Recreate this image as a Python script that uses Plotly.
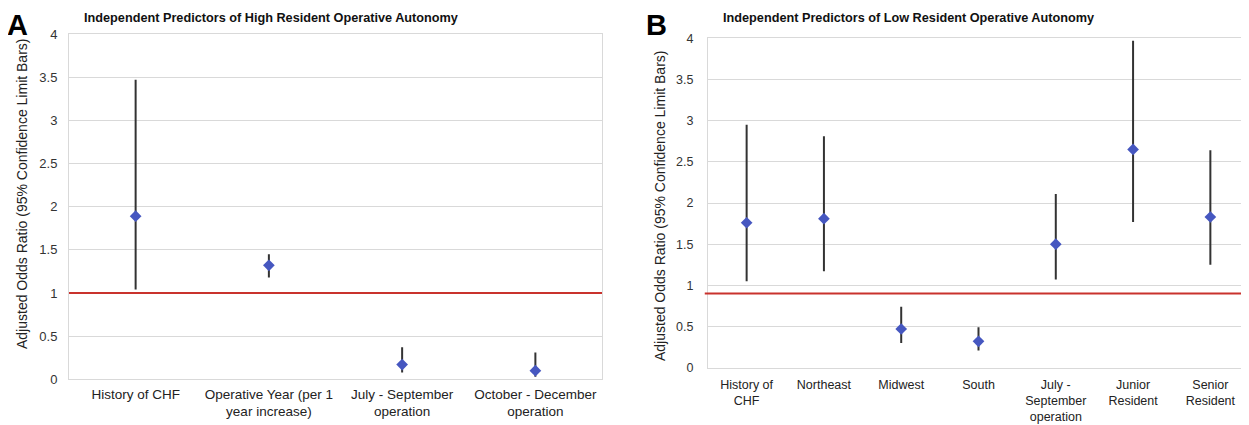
import plotly.graph_objects as go

# The page body has an 8px default margin; the figure is sized so that it
# fills the 1249x425 window exactly after that offset.
OFF = 8
W, H = 1249 - OFF, 425 - OFF

# ---- Panel A data ----
cats_a = ["History of CHF", "Operative Year (per 1<br>year increase)",
          "July - September<br>operation", "October - December<br>operation"]
or_a = [1.89, 1.32, 0.17, 0.10]
lo_a = [1.04, 1.18, 0.08, 0.03]
hi_a = [3.47, 1.45, 0.37, 0.31]
ref_a = 1.0

# ---- Panel B data ----
cats_b = ["History of<br>CHF", "Northeast", "Midwest", "South",
          "July -<br>September<br>operation", "Junior<br>Resident", "Senior<br>Resident"]
or_b = [1.76, 1.81, 0.47, 0.32, 1.50, 2.65, 1.83]
lo_b = [1.05, 1.17, 0.30, 0.21, 1.07, 1.77, 1.25]
hi_b = [2.95, 2.81, 0.74, 0.49, 2.11, 3.97, 2.64]
ref_b = 0.9

y_ticks = [0, 0.5, 1, 1.5, 2, 2.5, 3, 3.5, 4]
y_ticktext = ["0", "0.5", "1", "1.5", "2", "2.5", "3", "3.5", "4"]

FONT = "Liberation Sans, Arial, Helvetica, sans-serif"
MARKER = "#4657c0"
BAR = "#333333"
RED = "#c9322d"
GRID = "#d9d9d9"


def px_x(px):
    return (px - OFF) / W


def px_y(py):
    return 1 - (py - OFF) / H


fig = go.Figure()

fig.add_trace(go.Scatter(
    x=cats_a, y=or_a, mode="markers", xaxis="x", yaxis="y",
    marker=dict(symbol="diamond", size=9, color=MARKER),
    error_y=dict(type="data", symmetric=False,
                 array=[h - v for h, v in zip(hi_a, or_a)],
                 arrayminus=[v - l for v, l in zip(or_a, lo_a)],
                 width=0, thickness=2, color=BAR),
    showlegend=False, hoverinfo="skip"))

fig.add_trace(go.Scatter(
    x=cats_b, y=or_b, mode="markers", xaxis="x2", yaxis="y2",
    marker=dict(symbol="diamond", size=9, color=MARKER),
    error_y=dict(type="data", symmetric=False,
                 array=[h - v for h, v in zip(hi_b, or_b)],
                 arrayminus=[v - l for v, l in zip(or_b, lo_b)],
                 width=0, thickness=2, color=BAR),
    showlegend=False, hoverinfo="skip"))

axis_common = dict(showline=True, mirror=True, linecolor=GRID, linewidth=1,
                   zeroline=False, ticks="", fixedrange=True, automargin=False)

fig.update_layout(
    width=W, height=H,
    margin=dict(l=0, r=0, t=0, b=0, autoexpand=False),
    paper_bgcolor="white", plot_bgcolor="white",
    font=dict(family=FONT, size=13, color="#333333"),
    xaxis=dict(domain=[px_x(69), px_x(602)], anchor="y", type="category",
               range=[-0.5, len(cats_a) - 0.5], showgrid=False,
               ticklabelstandoff=2,
               tickfont=dict(size=13.5, color="#222222"), **axis_common),
    yaxis=dict(domain=[px_y(379.3), px_y(34)], anchor="x", range=[0, 4],
               tickvals=y_ticks, ticktext=y_ticktext, showgrid=True,
               gridcolor=GRID, gridwidth=1, ticklabelstandoff=8,
               tickfont=dict(size=13, color="#333333"), **axis_common),
    xaxis2=dict(domain=[px_x(708), 1.0], anchor="y2", type="category",
                range=[-0.5, len(cats_b) - 0.5], showgrid=False,
                ticklabelstandoff=5,
                tickfont=dict(size=12.5, color="#222222"), **axis_common),
    yaxis2=dict(domain=[px_y(367.7), px_y(38.3)], anchor="x2", range=[0, 4],
                tickvals=y_ticks, ticktext=y_ticktext, showgrid=True,
                gridcolor=GRID, gridwidth=1, ticklabelstandoff=11,
                tickfont=dict(size=12.5, color="#333333"), **axis_common),
)

# reference lines
fig.add_shape(type="line", xref="x domain", yref="y", x0=0, x1=1, y0=ref_a, y1=ref_a,
              line=dict(color=RED, width=2), layer="above")
fig.add_shape(type="line", xref="x2 domain", yref="y2", x0=-0.006, x1=1, y0=ref_b, y1=ref_b,
              line=dict(color=RED, width=2), layer="above")

# panel letters (anchored at the top edge so they stay inside the figure)
for letter, xpx in (("A", 18), ("B", 656)):
    fig.add_annotation(xref="paper", yref="paper", showarrow=False,
                       text=f"<b>{letter}</b>", x=px_x(xpx), y=1.0,
                       xanchor="center", yanchor="top", borderpad=0,
                       font=dict(size=29, color="black"))

# titles / axis titles
ann = [
    dict(text="<b>Independent Predictors of High Resident Operative Autonomy</b>",
         x=px_x(271), y=px_y(18), font=dict(size=12.7, color="#111111")),
    dict(text="<b>Independent Predictors of Low Resident Operative Autonomy</b>",
         x=px_x(908), y=px_y(18), font=dict(size=12.7, color="#111111")),
    dict(text="Adjusted Odds Ratio (95% Confidence Limit Bars)", textangle=-90,
         x=px_x(22), y=px_y(194), font=dict(size=14, color="#222222")),
    dict(text="Adjusted Odds Ratio (95% Confidence Limit Bars)", textangle=-90,
         x=px_x(660), y=px_y(206), font=dict(size=14, color="#222222")),
]
for a in ann:
    fig.add_annotation(xref="paper", yref="paper", showarrow=False,
                       xanchor="center", yanchor="middle", **a)

fig.write_html("out.html")
